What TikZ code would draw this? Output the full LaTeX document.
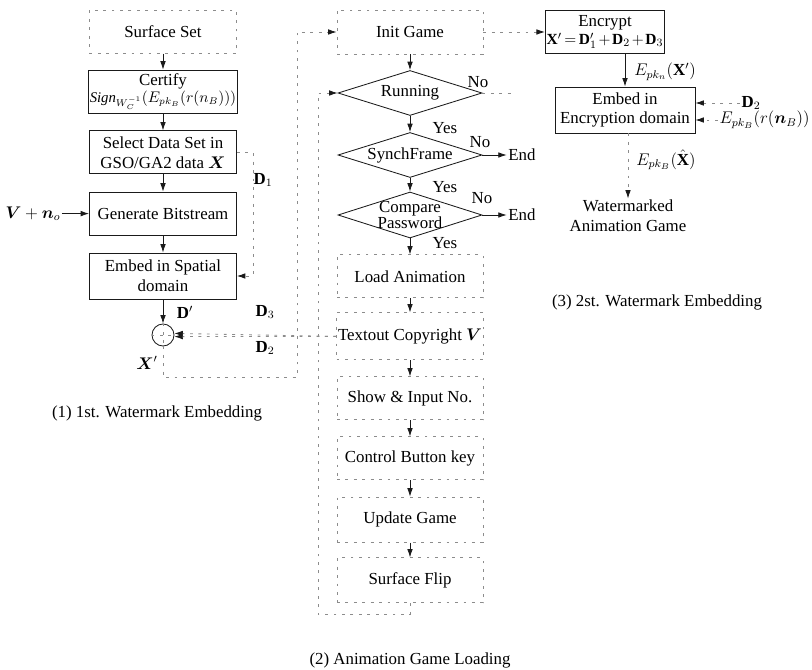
\documentclass[tikz,border=0pt]{standalone}
\usepackage{amsmath}
\usepackage{fontspec}
\setmainfont{Liberation Serif}
\usetikzlibrary{arrows.meta, positioning, shapes.geometric, calc}
\definecolor{ink}{HTML}{1A1A1A}
\definecolor{faded}{HTML}{8C8C8C}

\begin{document}
\begin{tikzpicture}[
    >=Latex,
    font=\fontsize{12}{14}\selectfont,
    box/.style={
        rectangle,
        draw=ink,
        line width=0.6pt,
        minimum width=3.675cm,
        minimum height=1.075cm,
        inner sep=1pt,
        align=center,
    },
    fadedbox/.style={
        box,
        draw=faded,
        dash pattern=on 2pt off 4pt,
    },
    midbox/.style={
        fadedbox,
        minimum width=3.65cm,
    },
    decision/.style={
        diamond,
        draw=ink,
        line width=0.6pt,
        minimum width=3.6cm,
        minimum height=1.125cm,
        inner sep=0pt,
    },
    arrowline/.style={
        ink,
        line width=0.6pt,
        -{Latex[length=6pt, width=4pt]},
    },
    fadedline/.style={
        faded,
        line width=0.6pt,
        dash pattern=on 2pt off 4pt,
        -{Latex[length=6pt, width=4pt, color=ink]},
    },
    fadedpath/.style={
        faded,
        line width=0.6pt,
        dash pattern=on 2pt off 4pt,
    },
    plain/.style={inner sep=1pt, align=center},
]

\useasboundingbox (0,0) rectangle (20.3,-16.75);

% (1) 1st watermark embedding
\node[fadedbox] (surf) at (4.075,-0.79) {Surface Set};
\node[box] (cert) at (4.075,-2.29) {Certify\\[-2pt]{\fontsize{10.5}{12}\selectfont $\mathit{Sign}_{W_C^{-1}}(E_{pk_B}(r(n_B)))$}};
\node[box] (sel) at (4.075,-3.81) {Select Data Set in\\GSO/GA2 data $\boldsymbol{X}$};
\node[box] (gen) at (4.075,-5.34) {Generate Bitstream};
\node[box, minimum height=1.15cm] (emb) at (4.075,-6.9) {Embed in Spatial\\domain};
\node[circle, draw=ink, line width=0.6pt, minimum size=0.55cm, inner sep=0pt] (circ) at (4.075,-8.375) {};
\draw[fadedpath] (circ.north) -- (circ.south) (circ.west) -- (circ.east);

\node[plain] (vno) at (0.825,-5.34) {$\boldsymbol{V} + \boldsymbol{n}_o$};
\node[plain] (d1) at (6.575,-4.5) {$\mathbf{D}_1$};
\node[plain] (dprime) at (4.625,-7.8) {$\mathbf{D}'$};
\node[plain] (d3) at (6.625,-7.8) {$\mathbf{D}_3$};
\node[plain] (d2) at (6.625,-8.7) {$\mathbf{D}_2$};
\node[plain] (xprime) at (3.675,-9.075) {$\boldsymbol{X}'$};
\node[plain] (cap1) at (3.925,-10.325) {(1) 1st. Watermark Embedding};

\draw[arrowline] (surf) -- (cert);
\draw[arrowline] (cert) -- (sel);
\draw[arrowline] (sel) -- (gen);
\draw[arrowline] (gen) -- (emb);
\draw[arrowline] (emb) -- (circ);
\draw[arrowline] (vno) -- (gen);
\draw[fadedline] (sel.east) -- ++(0.4,0) |- (emb.east);

% (2) animation game loading
\node[midbox, minimum height=1.1cm] (init) at (10.25,-0.8) {Init Game};
\node[decision, label=center:Running] (running) at (10.25,-2.325) {};
\node[decision, label=center:SynchFrame] (synch) at (10.25,-3.875) {};
\node[decision, minimum height=1.15cm,
      label={[align=center, font=\fontsize{12}{12}\selectfont]center:Compare\\Password}] (comp) at (10.25,-5.375) {};
\node[midbox] (load) at (10.25,-6.91) {Load Animation};
\node[midbox, minimum height=1.175cm] (textout) at (10.25,-8.41) {Textout Copyright $\boldsymbol{V}$};
\node[midbox] (show) at (10.25,-9.96) {Show \& Input No.};
\node[midbox] (control) at (10.25,-11.46) {Control Button key};
\node[midbox, minimum height=1.125cm] (update) at (10.25,-12.99) {Update Game};
\node[midbox, minimum height=1.125cm] (flip) at (10.25,-14.51) {Surface Flip};

\node[plain] (end1) at (13.05,-3.875) {End};
\node[plain] (end2) at (13.05,-5.375) {End};
\node[plain] (no1) at (11.95,-2.05) {No};
\node[plain] (no2) at (12.0,-3.55) {No};
\node[plain] (no3) at (12.05,-4.95) {No};
\node[plain] (yes1) at (11.125,-3.2) {Yes};
\node[plain] (yes2) at (11.125,-4.675) {Yes};
\node[plain] (yes3) at (11.125,-6.075) {Yes};
\node[plain] (cap2) at (10.25,-16.5) {(2) Animation Game Loading};

\draw[arrowline] (init) -- (running);
\draw[arrowline] (running) -- (synch);
\draw[arrowline] (synch) -- (comp);
\draw[arrowline] (comp) -- (load);
\foreach \a/\b in {load/textout, textout/show, show/control, control/update, update/flip}
    \draw[arrowline] (\a) -- (\b);
\draw[arrowline] (synch.east) -- (end1);
\draw[arrowline] (comp.east) -- (end2);
\coordinate (runno) at (12.9,-2.325);
\draw[fadedpath] (running.east) -- (runno);

% loop back and X' feed
\coordinate (loopb) at (7.95,-15.35);
\draw[fadedline] (flip.south) |- (loopb) |- (running.west);
\coordinate (xbend) at (7.425,-9.425);
\draw[fadedline] (circ.south) |- (xbend) |- (init.west);
\draw[fadedline] (textout.west) -- (circ.8);
\draw[fadedline] (textout.west) -- (circ.-8);

% (3) 2nd watermark embedding
\node[box, minimum width=2.5cm] (encr) at (15.125,-0.8) {Encrypt\\[-1pt]{\fontsize{11}{13}\selectfont\thickmuskip=3mu\medmuskip=2mu $\mathbf{X}' = \mathbf{D}'_1 + \mathbf{D}_2 + \mathbf{D}_3$}};
\node[box, minimum width=3.5cm, minimum height=1.15cm] (embenc) at (15.625,-2.75) {Embed in\\Encryption domain};
\node[plain] (epkn) at (16.625,-1.8) {$E_{pk_n}(\mathbf{X}')$};
\node[plain, anchor=west] (d2r) at (18.5,-2.575) {$\mathbf{D}_2$};
\node[plain, anchor=east] (epkbr) at (20.28,-3.0) {$E_{pk_B}(r(\boldsymbol{n}_B))$};
\node[plain] (epkbx) at (16.65,-4.0) {$E_{pk_B}(\hat{\mathbf{X}})$};
\node[plain] (wm) at (15.7,-5.4) {Watermarked\\Animation Game};
\node[plain] (cap3) at (16.425,-7.55) {(3) 2st. Watermark Embedding};

\draw[fadedline] (init.east) -- (encr.west);
\draw[arrowline] (encr.south -| embenc.north) -- (embenc.north);
\draw[fadedline] (d2r.west) -- (d2r.west -| embenc.east);
\draw[fadedline] (epkbr.west) -- (epkbr.west -| embenc.east);
\draw[fadedline] (embenc.south -| wm.north) -- (wm.north);

\end{tikzpicture}
\end{document}
